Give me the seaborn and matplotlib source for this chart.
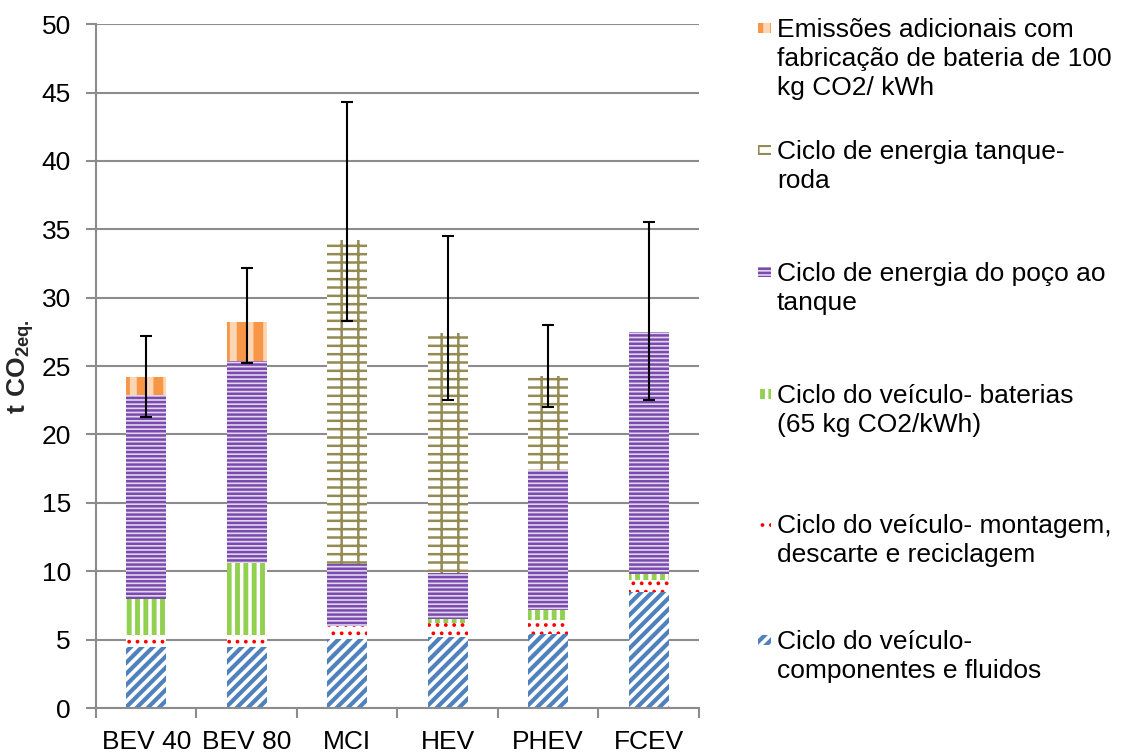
import numpy as np
import matplotlib
matplotlib.use("Agg")
import matplotlib.pyplot as plt
from matplotlib.patches import Rectangle
from matplotlib.ticker import FixedLocator
import seaborn as sns

# vehicle types on the x axis
models = ["BEV 40", "BEV 80", "MCI", "HEV", "PHEV", "FCEV"]

# stacked segments, bottom to top (t CO2eq.)
componentes = [4.45, 4.45, 5.05, 5.2, 5.4, 8.5]
montagem = [0.9, 0.9, 0.95, 1.05, 1.05, 0.85]
baterias = [2.65, 5.25, 0.0, 0.25, 0.75, 0.45]
poco_tanque = [14.9, 14.75, 4.55, 3.4, 10.2, 17.7]
tanque_roda = [0.0, 0.0, 23.65, 17.5, 6.9, 0.0]
bateria_extra = [1.3, 2.9, 0.0, 0.0, 0.0, 0.0]

# error bar ends
err_low = [21.3, 25.2, 28.3, 22.5, 22.0, 22.5]
err_high = [27.2, 32.2, 44.3, 34.5, 28.0, 35.5]

labels = [
    "Ciclo do veículo-\ncomponentes e fluidos",
    "Ciclo do veículo- montagem,\ndescarte e reciclagem",
    "Ciclo do veículo- baterias\n(65 kg CO2/kWh)",
    "Ciclo de energia do poço ao\ntanque",
    "Ciclo de energia tanque-\nroda",
    "Emissões adicionais com\nfabricação de bateria de 100\nkg CO2/ kWh",
]

# (values, facecolor, hatch colour, hatch, hatch linewidth)
series = [
    (componentes, "white", "#4f81bd", "///", 3.0),
    (montagem, "white", "#ff0000", "..", 1.5),
    (baterias, "white", "#92d050", "||", 3.5),
    (poco_tanque, "#e2d6ee", "#7a4bae", "----", 1.8),
    (tanque_roda, "white", "#948a54", "+-", 1.8),
    (bateria_extra, "#fcd5b4", "#f79646", "|", 7.0),
]

sns.set_style("white")
plt.rcParams["font.family"] = ["Liberation Sans", "DejaVu Sans"]
plt.rcParams["text.color"] = "black"
plt.rcParams["mathtext.fontset"] = "custom"
plt.rcParams["mathtext.rm"] = "Liberation Sans"
plt.rcParams["mathtext.bf"] = "Liberation Sans:bold"

fig = plt.figure(figsize=(11.25, 7.54), dpi=100)
ax = fig.add_axes([0.0853, 0.061, 0.536, 0.907])

bottom = np.zeros(len(models))
for vals, face, hc, hatch, hlw in series:
    sns.barplot(x=models, y=vals, bottom=bottom, width=0.4, color=face,
                errorbar=None, ax=ax)
    for p in ax.containers[-1]:
        p.set_facecolor(face)
        p.set_edgecolor(hc)
        p.set_hatch(hatch)
        p.set_linewidth(0)
        if hasattr(p, "set_hatch_linewidth"):
            p.set_hatch_linewidth(hlw)
    bottom = bottom + np.array(vals)

totals = bottom
ax.errorbar(np.arange(len(models)), totals,
            yerr=[totals - np.array(err_low), np.array(err_high) - totals],
            fmt="none", ecolor="black", elinewidth=1.5, capsize=4,
            capthick=1.5, zorder=5)

ax.set_ylim(0, 50)
ax.set_xlim(-0.5, len(models) - 0.5)
ax.set_yticks(np.arange(0, 51, 5))
ax.yaxis.grid(True, color="#8c8c8c", linewidth=1.5)
ax.set_axisbelow(True)
for s in ["top", "right"]:
    ax.spines[s].set_visible(False)
for s in ["left", "bottom"]:
    ax.spines[s].set_color("#8c8c8c")
    ax.spines[s].set_linewidth(1.5)

ax.xaxis.set_minor_locator(FixedLocator(np.arange(-0.5, len(models), 1.0)))
ax.tick_params(axis="x", which="major", length=0, pad=16, labelsize=19,
               labelcolor="black")
ax.tick_params(axis="x", which="minor", length=7, width=1.5,
               color="#8c8c8c", bottom=True)
ax.tick_params(axis="y", which="major", length=7, width=1.5,
               color="#8c8c8c", left=True, labelsize=19, pad=11,
               labelcolor="black")
ax.set_xlabel("")
ax.set_ylabel(r"$\mathbf{t\ CO_{2eq.}}$", fontsize=19, labelpad=4)

# legend drawn by hand: top entry first, first-line centres in pixels
W, H = 1125.0, 754.0
legend_rows = [28, 150, 272, 394, 524, 640]
for i, k in enumerate(range(len(series) - 1, -1, -1)):
    _, face, hc, hatch, hlw = series[k]
    yc = legend_rows[i]
    r = Rectangle((758 / W, 1 - (yc + 5) / H), 13 / W, 10 / H,
                  transform=fig.transFigure, facecolor=face, edgecolor=hc,
                  hatch=hatch, linewidth=0)
    if hasattr(r, "set_hatch_linewidth"):
        r.set_hatch_linewidth(hlw)
    fig.add_artist(r)
    fig.text(777 / W, 1 - (yc - 10) / H, labels[k], fontsize=19,
             va="top", ha="left", linespacing=1.27)

fig.savefig("out.png", dpi=100)
